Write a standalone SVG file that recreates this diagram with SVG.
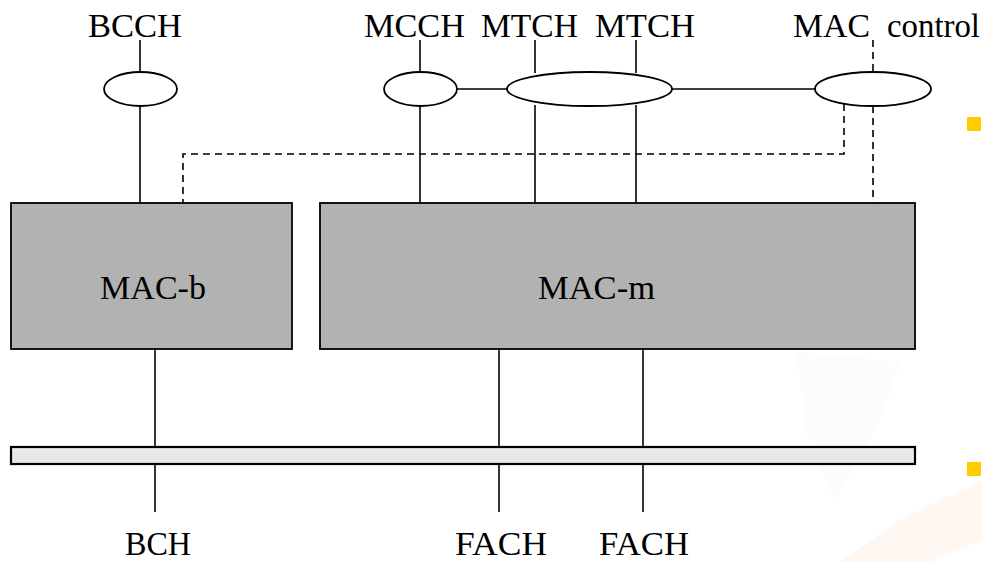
<svg xmlns="http://www.w3.org/2000/svg" width="982" height="562" viewBox="0 0 982 562">
  <style>
    text { font-family: "Liberation Serif", "DejaVu Serif", "Times New Roman", serif; font-size: 34px; fill: #000; }
    .mac { fill: #b2b2b2; stroke: #000; stroke-width: 1.8; }
    .bus { fill: #e8e8e8; stroke: #000; stroke-width: 2.2; }
    .ch { fill: #fff; stroke: #000; stroke-width: 1.8; }
    .ln { stroke: #000; stroke-width: 1.6; fill: none; }
    .dash { stroke: #000; stroke-width: 1.6; fill: none; stroke-dasharray: 7 5; }
    .bullet { fill: #ffcc00; }
  </style>

  <rect width="982" height="562" fill="#fff"/>

  <!-- faint slide backdrop -->
  <g id="backdrop">
    <path d="M796 352 L900 362 L880 420 L835 500 L808 440 Z" fill="#fcfcfc"/>
    <path d="M840 562 L900 520 L982 480 L982 540 L930 562 Z" fill="#fff8f2"/>
  </g>
  <rect class="bullet" x="967" y="117" width="14" height="14"/>
  <rect class="bullet" x="967" y="462" width="14" height="14"/>

  <!-- connectors -->
  <g id="connectors">
    <!-- BCCH -->
    <line class="ln" x1="140" y1="40" x2="140" y2="72"/>
    <line class="ln" x1="140" y1="106" x2="140" y2="203"/>
    <!-- MCCH -->
    <line class="ln" x1="420" y1="40" x2="420" y2="72"/>
    <line class="ln" x1="420" y1="106" x2="420" y2="203"/>
    <!-- MTCH -->
    <line class="ln" x1="535" y1="40" x2="535" y2="73"/>
    <line class="ln" x1="535" y1="105" x2="535" y2="203"/>
    <line class="ln" x1="636" y1="40" x2="636" y2="73"/>
    <line class="ln" x1="636" y1="105" x2="636" y2="203"/>
    <!-- links between the MAC-m channel ellipses -->
    <line class="ln" x1="457" y1="89" x2="507" y2="89"/>
    <line class="ln" x1="672" y1="89" x2="815" y2="89"/>
    <!-- MAC control -->
    <line class="dash" x1="873" y1="40" x2="873" y2="72"/>
    <line class="dash" x1="873" y1="106" x2="873" y2="203"/>
    <polyline class="dash" points="844,104 844,154 183,154 183,203"/>
    <!-- transport channels -->
    <line class="ln" x1="155" y1="349" x2="155" y2="512"/>
    <line class="ln" x1="499" y1="349" x2="499" y2="512"/>
    <line class="ln" x1="643" y1="349" x2="643" y2="512"/>
  </g>

  <!-- logical channel ellipses -->
  <g id="bcch">
    <ellipse class="ch" cx="140.5" cy="89" rx="36.5" ry="17"/>
    <text x="135" y="37" text-anchor="middle" textLength="94" lengthAdjust="spacingAndGlyphs">BCCH</text>
  </g>
  <g id="mcch">
    <ellipse class="ch" cx="420.5" cy="89" rx="36.5" ry="17"/>
    <text x="414.5" y="37" text-anchor="middle" textLength="101" lengthAdjust="spacingAndGlyphs">MCCH</text>
  </g>
  <g id="mtch">
    <ellipse class="ch" cx="589.5" cy="89" rx="82.5" ry="17"/>
    <text x="529.5" y="37" text-anchor="middle" textLength="97" lengthAdjust="spacingAndGlyphs">MTCH</text>
    <text x="645" y="37" text-anchor="middle" textLength="100" lengthAdjust="spacingAndGlyphs">MTCH</text>
  </g>
  <g id="mac-control">
    <ellipse class="ch" cx="873" cy="89" rx="58" ry="17"/>
    <text x="793" y="37" textLength="77" lengthAdjust="spacingAndGlyphs">MAC</text>
    <text x="887" y="37" textLength="93" lengthAdjust="spacingAndGlyphs">control</text>
  </g>

  <!-- MAC entities -->
  <g id="mac-b">
    <rect class="mac" x="11" y="203" width="281" height="146"/>
    <text x="153" y="299" text-anchor="middle" textLength="106" lengthAdjust="spacingAndGlyphs">MAC-b</text>
  </g>
  <g id="mac-m">
    <rect class="mac" x="320" y="203" width="595" height="146"/>
    <text x="596.5" y="299" text-anchor="middle" textLength="117" lengthAdjust="spacingAndGlyphs">MAC-m</text>
  </g>

  <!-- transport layer bar -->
  <g id="phy">
    <rect class="bus" x="11" y="447" width="904" height="17"/>
  </g>

  <!-- transport channel labels -->
  <g id="bch">
    <text x="158" y="555" text-anchor="middle" textLength="66" lengthAdjust="spacingAndGlyphs">BCH</text>
  </g>
  <g id="fach-1">
    <text x="501" y="555" text-anchor="middle" textLength="92" lengthAdjust="spacingAndGlyphs">FACH</text>
  </g>
  <g id="fach-2">
    <text x="644" y="555" text-anchor="middle" textLength="90" lengthAdjust="spacingAndGlyphs">FACH</text>
  </g>
</svg>
